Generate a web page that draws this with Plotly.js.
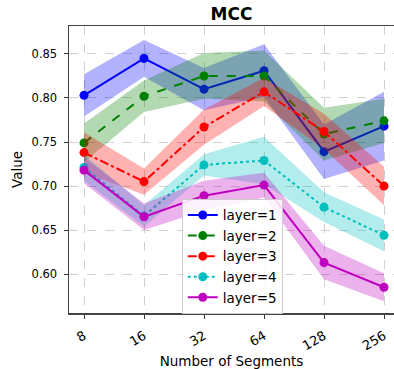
<!DOCTYPE html>
<html>
<head>
<meta charset="utf-8">
<script src="https://cdn.plot.ly/plotly-3.0.1.min.js"></script>
<style>html,body{margin:0;padding:0;background:#fff;}#chart{width:394px;height:369px;}</style>
</head>
<body>
<div id="chart"></div>
<script>
const segments = ['8', '16', '32', '64', '128', '256'];
const layerNames = ['layer=1', 'layer=2', 'layer=3', 'layer=4', 'layer=5'];
const layer1Mean = [0.803, 0.845, 0.810, 0.831, 0.739, 0.768];
const layer1Std  = [0.024, 0.021, 0.024, 0.030, 0.031, 0.039];
const layer2Mean = [0.749, 0.802, 0.825, 0.825, 0.759, 0.774];
const layer2Std  = [0.022, 0.018, 0.026, 0.029, 0.030, 0.025];
const layer3Mean = [0.738, 0.705, 0.767, 0.807, 0.762, 0.700];
const layer3Std  = [0.023, 0.015, 0.020, 0.016, 0.020, 0.022];
const layer4Mean = [0.721, 0.666, 0.724, 0.729, 0.676, 0.644];
const layer4Std  = [0.015, 0.012, 0.012, 0.027, 0.017, 0.018];
const layer5Mean = [0.718, 0.665, 0.689, 0.701, 0.613, 0.585];
const layer5Std  = [0.015, 0.015, 0.017, 0.014, 0.019, 0.016];

const means = [layer1Mean, layer2Mean, layer3Mean, layer4Mean, layer5Mean];
const stds = [layer1Std, layer2Std, layer3Std, layer4Std, layer5Std];
const colors = ['0,0,255', '0,128,0', '255,0,0', '0,191,191', '191,0,191'];
const dashes = ['solid', 'dash', 'dashdot', 'dot', 'solid'];

const font = 'DejaVu Sans, sans-serif';
const traces = [];
for (let i = 0; i < means.length; i++) {
  const upper = means[i].map((m, j) => m + stds[i][j]);
  const lower = means[i].map((m, j) => m - stds[i][j]);
  traces.push({
    x: segments.concat(segments.slice().reverse()),
    y: upper.concat(lower.slice().reverse()),
    type: 'scatter', mode: 'lines', fill: 'toself',
    fillcolor: 'rgba(' + colors[i] + ',0.3)',
    line: {width: 0, color: 'rgba(0,0,0,0)'},
    hoverinfo: 'skip', showlegend: false
  });
  traces.push({
    x: segments, y: means[i], name: layerNames[i],
    type: 'scatter', mode: 'lines+markers',
    line: {color: 'rgb(' + colors[i] + ')', width: 2, dash: dashes[i]},
    marker: {color: 'rgb(' + colors[i] + ')', size: 9}
  });
}

const layout = {
  width: 394, height: 369,
  margin: {l: 69, r: 0, t: 26, b: 56},
  paper_bgcolor: '#fff', plot_bgcolor: '#fff',
  font: {family: font, color: '#000', size: 11},
  title: {text: '<b>MCC</b>', font: {family: font, size: 17, color: '#000'}, x: 0.5, xanchor: 'center', xref: 'paper', y: 0.963, yanchor: 'middle'},
  xaxis: {
    type: 'category', range: [-0.25, 5.1667],
    tickangle: -30, ticks: 'outside', ticklen: 4, tickcolor: '#333', tickwidth: 1,
    showline: true, linecolor: '#444', linewidth: 1.5, mirror: true,
    showgrid: true, gridcolor: '#d0d0d0', griddash: 'dash', gridwidth: 1,
    zeroline: false, tickfont: {size: 13, family: font}, ticklabelstandoff: 5,
    title: {text: 'Number of Segments', font: {size: 13.5, family: font}, standoff: 4}
  },
  yaxis: {
    range: [0.5557, 0.8818],
    tickvals: [0.60, 0.65, 0.70, 0.75, 0.80, 0.85],
    ticktext: ['0.60', '0.65', '0.70', '0.75', '0.80', '0.85'],
    ticks: 'outside', ticklen: 4, tickcolor: '#333', tickwidth: 1,
    showline: true, linecolor: '#444', linewidth: 1.5, mirror: false,
    showgrid: true, gridcolor: '#d0d0d0', griddash: 'dash', gridwidth: 1,
    zeroline: false, tickfont: {size: 11.5, family: font}, ticklabelstandoff: 4,
    title: {text: 'Value', font: {size: 13.5, family: font}, standoff: 6}
  },
  legend: {
    x: 0.347, y: 0.398, xanchor: 'left', yanchor: 'top',
    bgcolor: 'rgba(255,255,255,0.85)', bordercolor: '#cccccc', borderwidth: 1,
    font: {size: 13.5, family: font}, itemwidth: 30, tracegroupgap: 0
  },
  showlegend: true
};

Plotly.newPlot('chart', traces, layout, {displayModeBar: false, staticPlot: true});
</script>
</body>
</html>
